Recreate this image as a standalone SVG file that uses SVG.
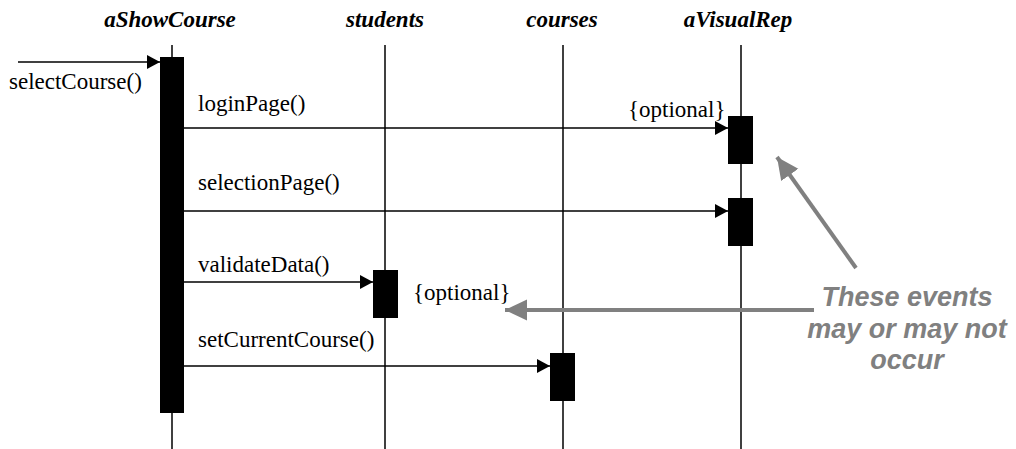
<svg xmlns="http://www.w3.org/2000/svg" width="1016" height="449" viewBox="0 0 1016 449">
  <style>
    .title { font-family: "Liberation Serif", "Times New Roman", serif; font-size: 23px; font-weight: bold; font-style: italic; fill: #000; text-anchor: middle; }
    .msg { font-family: "Liberation Serif", "Times New Roman", serif; font-size: 23px; fill: #000; }
    .life { stroke: #000; stroke-width: 1.5; fill: none; }
    .act { fill: #000; }
    .call { stroke: #000; stroke-width: 1.5; fill: none; marker-end: url(#head); }
    .note { stroke: #808080; stroke-width: 4; fill: none; marker-end: url(#grayHead); }
    .noteText { font-family: "Liberation Sans", Arial, sans-serif; font-size: 27px; font-weight: bold; font-style: italic; fill: #808080; text-anchor: middle; }
  </style>
  <defs>
    <marker id="head" markerUnits="userSpaceOnUse" markerWidth="14" markerHeight="15" refX="13" refY="7" orient="auto">
      <path d="M0,0 L13,7 L0,14 z" fill="#000"/>
    </marker>
    <marker id="grayHead" markerUnits="userSpaceOnUse" markerWidth="24" markerHeight="22" refX="22" refY="10.5" orient="auto">
      <path d="M0,0 L22,10.5 L0,21 z" fill="#808080"/>
    </marker>
  </defs>

  <rect width="1016" height="449" fill="#fff"/>

  <!-- object lifelines -->
  <g id="aShowCourse">
    <text class="title" x="170" y="27">aShowCourse</text>
    <line class="life" x1="172" y1="45" x2="172" y2="449"/>
    <rect class="act" x="160" y="57" width="24" height="356"/>
  </g>
  <g id="students">
    <text class="title" x="385" y="27">students</text>
    <line class="life" x1="385" y1="45" x2="385" y2="449"/>
    <rect class="act" x="373" y="270" width="25" height="48"/>
  </g>
  <g id="courses">
    <text class="title" x="562" y="27">courses</text>
    <line class="life" x1="563" y1="45" x2="563" y2="449"/>
    <rect class="act" x="550" y="353" width="25" height="48"/>
  </g>
  <g id="aVisualRep">
    <text class="title" x="738" y="27">aVisualRep</text>
    <line class="life" x1="741" y1="45" x2="741" y2="449"/>
    <rect class="act" x="728" y="116" width="25" height="48"/>
    <rect class="act" x="728" y="198" width="25" height="48"/>
  </g>

  <!-- messages -->
  <g id="connectors">
    <line class="call" x1="18" y1="62" x2="160" y2="62"/>
    <line class="call" x1="184" y1="128" x2="728" y2="128"/>
    <line class="call" x1="184" y1="211" x2="728" y2="211"/>
    <line class="call" x1="184" y1="282" x2="373" y2="282"/>
    <line class="call" x1="184" y1="366" x2="550" y2="366"/>
    <line class="note" x1="814" y1="310" x2="505" y2="310"/>
    <line class="note" x1="856" y1="268" x2="777" y2="157"/>
  </g>

  <!-- message labels -->
  <g id="labels">
    <text class="msg" x="9" y="89">selectCourse()</text>
    <text class="msg" x="198" y="111">loginPage()</text>
    <text class="msg" x="628" y="117">{optional}</text>
    <text class="msg" x="198" y="190">selectionPage()</text>
    <text class="msg" x="198" y="272">validateData()</text>
    <text class="msg" x="413" y="300">{optional}</text>
    <text class="msg" x="198" y="347">setCurrentCourse()</text>
  </g>

  <!-- annotation -->
  <g id="note">
    <text class="noteText" x="907" y="306">These events</text>
    <text class="noteText" x="907" y="338">may or may not</text>
    <text class="noteText" x="907" y="369">occur</text>
  </g>
</svg>
